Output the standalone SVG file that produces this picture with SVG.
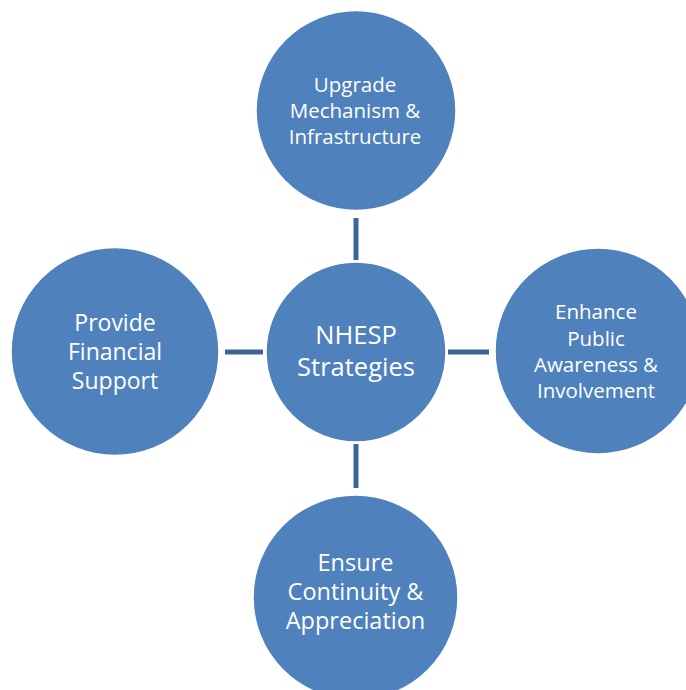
<svg xmlns="http://www.w3.org/2000/svg" width="686" height="690" viewBox="0 0 686 690">
<style>
.node{fill:#4F81BD;stroke:#FFFFFF;stroke-width:1.5}
.lbl{font-family:"Open Sans","Noto Sans","Liberation Sans",sans-serif;fill:#FFFFFF;text-anchor:middle}
.conn{stroke:#3D6697;stroke-width:5;fill:none}
</style>
<rect width="686" height="690" fill="#FFFFFF"/>
<g id="connectors">
<line class="conn" x1="356" y1="218" x2="356" y2="260"/>
<line class="conn" x1="225" y1="352" x2="263" y2="352"/>
<line class="conn" x1="448" y1="352" x2="489" y2="352"/>
<line class="conn" x1="356" y1="444" x2="356" y2="488"/>
</g>
<g id="center">
<circle class="node" cx="356" cy="352" r="90"/>
<text class="lbl" font-size="25.5"><tspan x="356" y="344">NHESP</tspan><tspan x="356" y="376">Strategies</tspan></text>
</g>
<g id="top">
<circle class="node" cx="356" cy="110.5" r="100"/>
<text class="lbl" font-size="20.5"><tspan x="355" y="92">Upgrade</tspan><tspan x="355" y="118">Mechanism &amp;</tspan><tspan x="355" y="144">Infrastructure</tspan></text>
</g>
<g id="left">
<circle class="node" cx="115" cy="351.5" r="104"/>
<text class="lbl" font-size="23"><tspan x="115" y="331">Provide</tspan><tspan x="115" y="360">Financial</tspan><tspan x="115" y="389">Support</tspan></text>
</g>
<g id="right">
<circle class="node" cx="598" cy="351" r="103"/>
<text class="lbl" font-size="20.5"><tspan x="596" y="319">Enhance</tspan><tspan x="596" y="346">Public</tspan><tspan x="596" y="372">Awareness &amp;</tspan><tspan x="596" y="398">Involvement</tspan></text>
</g>
<g id="bottom">
<circle class="node" cx="355.5" cy="597.5" r="102.5"/>
<text class="lbl" font-size="23.5"><tspan x="355.5" y="571">Ensure</tspan><tspan x="355.5" y="600">Continuity &amp;</tspan><tspan x="355.5" y="629">Appreciation</tspan></text>
</g>
</svg>
